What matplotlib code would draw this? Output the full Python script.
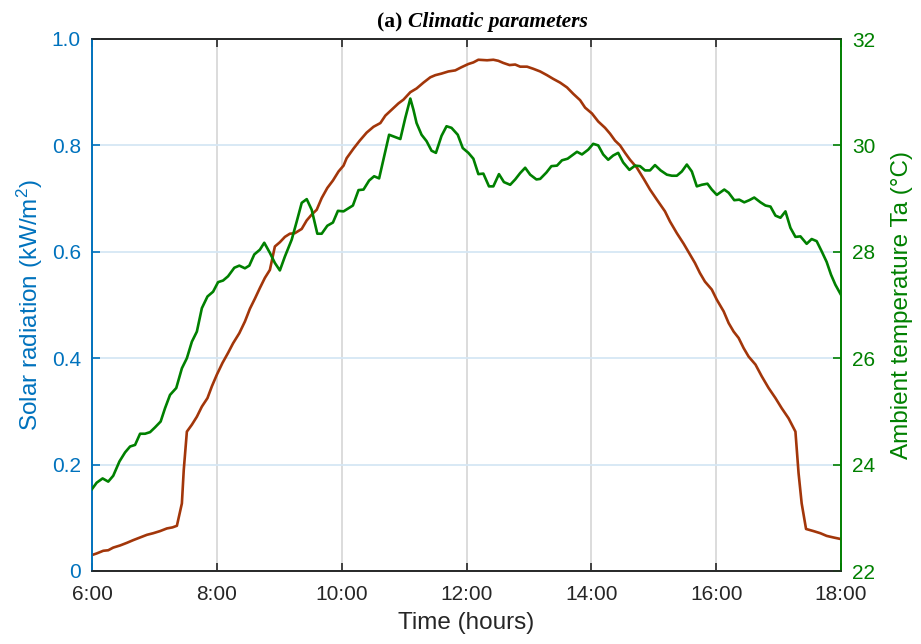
import matplotlib
matplotlib.use("Agg")
import matplotlib.pyplot as plt

plt.rcParams['font.family'] = ['Liberation Sans', 'DejaVu Sans']
plt.rcParams['mathtext.fontset'] = 'custom'
plt.rcParams['mathtext.rm'] = 'Liberation Sans'
plt.rcParams['mathtext.it'] = 'Liberation Sans:italic'
plt.rcParams['mathtext.default'] = 'regular'

# ---------------- data ----------------
# Solar radiation (kW/m^2) vs time (decimal hours)
sol_t = [6.00, 6.075, 6.18, 6.26, 6.34, 6.45, 6.56, 6.66, 6.77, 6.88, 6.98, 7.09, 7.20, 7.29, 7.36,
         7.44, 7.47, 7.52, 7.60, 7.68, 7.76, 7.85, 7.92, 8.00, 8.09, 8.18, 8.26, 8.36, 8.45, 8.53,
         8.61, 8.69, 8.77, 8.85, 8.93, 9.01, 9.09, 9.17, 9.25, 9.36, 9.44, 9.52, 9.60, 9.68, 9.77,
         9.86, 9.95, 10.03, 10.08, 10.19, 10.29, 10.40, 10.51, 10.62, 10.70, 10.80, 10.91, 10.99,
         11.10, 11.20, 11.31, 11.42, 11.50, 11.60, 11.71, 11.82, 11.92, 12.03, 12.11, 12.19, 12.33,
         12.43, 12.51, 12.59, 12.69, 12.78, 12.86, 12.97, 13.07, 13.18, 13.29, 13.39, 13.50, 13.61,
         13.71, 13.82, 13.90, 14.01, 14.11, 14.22, 14.30, 14.38, 14.46, 14.54, 14.62, 14.73, 14.84,
         14.94, 15.05, 15.18, 15.26, 15.37, 15.48, 15.58, 15.66, 15.74, 15.82, 15.93, 16.01, 16.12,
         16.20, 16.28, 16.36, 16.44, 16.52, 16.63, 16.73, 16.84, 16.95, 17.05, 17.16, 17.27, 17.32,
         17.37, 17.44, 17.56, 17.67, 17.77, 17.88, 18.00]
sol_v = [0.030, 0.033, 0.038, 0.039, 0.044, 0.048, 0.053, 0.058, 0.063, 0.068, 0.071, 0.075, 0.080, 0.082, 0.085,
         0.127, 0.190, 0.262, 0.275, 0.290, 0.309, 0.325, 0.347, 0.369, 0.391, 0.410, 0.428, 0.447, 0.469, 0.493,
         0.512, 0.532, 0.551, 0.566, 0.610, 0.618, 0.628, 0.634, 0.635, 0.643, 0.659, 0.670, 0.679, 0.701, 0.720,
         0.734, 0.751, 0.762, 0.776, 0.794, 0.809, 0.824, 0.835, 0.842, 0.856, 0.867, 0.879, 0.886,
         0.900, 0.907, 0.918, 0.928, 0.932, 0.935, 0.939, 0.941, 0.947, 0.953, 0.956, 0.961, 0.960,
         0.961, 0.959, 0.955, 0.951, 0.952, 0.948, 0.948, 0.944, 0.939, 0.932, 0.925, 0.918, 0.909,
         0.897, 0.885, 0.871, 0.860, 0.845, 0.833, 0.822, 0.809, 0.800, 0.786, 0.773, 0.758, 0.737,
         0.717, 0.698, 0.676, 0.657, 0.635, 0.615, 0.595, 0.579, 0.560, 0.544, 0.529, 0.510, 0.488,
         0.466, 0.450, 0.438, 0.419, 0.403, 0.388, 0.366, 0.344, 0.325, 0.306, 0.287, 0.262, 0.184,
         0.127, 0.079, 0.075, 0.071, 0.066, 0.063, 0.060]

# Ambient temperature (deg C) vs time (decimal hours)
temp_t = [6.00, 6.075, 6.17, 6.26, 6.34, 6.44, 6.53, 6.61, 6.69, 6.77, 6.85, 6.93, 7.01, 7.10, 7.17,
          7.25, 7.35, 7.44, 7.52, 7.60, 7.68, 7.76, 7.85, 7.94, 8.02, 8.10, 8.18, 8.28, 8.36, 8.45,
          8.52, 8.60, 8.69, 8.76, 8.85, 8.93, 9.01, 9.09, 9.20, 9.28, 9.36, 9.44, 9.52, 9.61, 9.68,
          9.77, 9.86, 9.94, 10.03, 10.18, 10.27, 10.35, 10.44, 10.52, 10.60, 10.70, 10.76, 10.94,
          11.02, 11.10, 11.15, 11.20, 11.28, 11.36, 11.44, 11.51, 11.60, 11.68, 11.76, 11.86, 11.94,
          12.03, 12.11, 12.19, 12.27, 12.36, 12.43, 12.52, 12.60, 12.70, 12.78, 12.86, 12.94, 13.02,
          13.12, 13.18, 13.28, 13.36, 13.45, 13.53, 13.62, 13.69, 13.77, 13.85, 13.95, 14.03, 14.11,
          14.19, 14.27, 14.35, 14.43, 14.51, 14.61, 14.70, 14.78, 14.86, 14.94, 15.02, 15.11, 15.21,
          15.29, 15.37, 15.45, 15.53, 15.61, 15.69, 15.77, 15.86, 15.93, 16.01, 16.13, 16.20, 16.29,
          16.37, 16.45, 16.53, 16.61, 16.71, 16.79, 16.87, 16.95, 17.03, 17.11, 17.19, 17.27, 17.35,
          17.45, 17.53, 17.61, 17.69, 17.77, 17.84, 17.91, 18.00]
temp_v = [23.54, 23.66, 23.74, 23.68, 23.79, 24.06, 24.23, 24.34, 24.37, 24.58, 24.58, 24.61, 24.70, 24.81, 25.06,
          25.31, 25.44, 25.81, 26.00, 26.31, 26.50, 26.94, 27.16, 27.25, 27.43, 27.46, 27.54, 27.70, 27.74, 27.69,
          27.74, 27.95, 28.04, 28.17, 27.98, 27.79, 27.65, 27.91, 28.23, 28.57, 28.92, 28.99, 28.79, 28.34, 28.34,
          28.49, 28.55, 28.77, 28.76, 28.87, 29.16, 29.17, 29.34, 29.42, 29.38, 29.89, 30.20, 30.12,
          30.52, 30.88, 30.67, 30.42, 30.20, 30.08, 29.90, 29.86, 30.18, 30.36, 30.33, 30.20, 29.95,
          29.86, 29.75, 29.46, 29.47, 29.23, 29.23, 29.46, 29.31, 29.26, 29.36, 29.48, 29.58, 29.45,
          29.36, 29.37, 29.49, 29.61, 29.62, 29.72, 29.75, 29.81, 29.88, 29.83, 29.92, 30.03, 30.00,
          29.83, 29.73, 29.81, 29.86, 29.68, 29.54, 29.62, 29.61, 29.53, 29.53, 29.63, 29.53, 29.45,
          29.43, 29.43, 29.51, 29.64, 29.51, 29.23, 29.26, 29.28, 29.17, 29.07, 29.17, 29.11, 28.97,
          28.98, 28.93, 28.97, 29.02, 28.93, 28.87, 28.85, 28.68, 28.64, 28.76, 28.45, 28.28, 28.29,
          28.15, 28.24, 28.20, 28.01, 27.81, 27.57, 27.38, 27.19]

x_ticks = [6, 8, 10, 12, 14, 16, 18]
x_tick_labels = ['6:00', '8:00', '10:00', '12:00', '14:00', '16:00', '18:00']
left_ticks = [0, 0.2, 0.4, 0.6, 0.8, 1.0]
left_tick_labels = ['0', '0.2', '0.4', '0.6', '0.8', '1.0']
right_ticks = [22, 24, 26, 28, 30, 32]

# ---------------- style ----------------
BLUE = '#0072BD'
GREEN = '#008000'
BROWN = '#A2360A'
DARK = '#262626'

fig = plt.figure(figsize=(9.21, 6.44), dpi=100)
ax = fig.add_axes([92/921, 73/644, 749/921, 532/644])
ax2 = ax.twinx()

ax.plot(sol_t, sol_v, color=BROWN, lw=1.9, zorder=3)
ax2.plot(temp_t, temp_v, color=GREEN, lw=1.9, zorder=3)

ax.set_xlim(6, 18)
ax.set_ylim(0, 1)
ax2.set_ylim(22, 32)

ax.set_xticks(x_ticks)
ax.set_xticklabels(x_tick_labels)
ax.set_yticks(left_ticks)
ax.set_yticklabels(left_tick_labels)
ax2.set_yticks(right_ticks)

# grid
ax.xaxis.grid(True, color='#d9d9d9', lw=1.3)
ax.yaxis.grid(True, color='#d6e7f4', lw=1.3)
ax.set_axisbelow(True)

# spines
for a in (ax, ax2):
    a.spines['top'].set_color(DARK)
    a.spines['bottom'].set_color(DARK)
    a.spines['left'].set_color(BLUE)
    a.spines['right'].set_color(GREEN)
    for s in a.spines.values():
        s.set_linewidth(1.2)

ax.tick_params(axis='x', direction='in', length=6, width=1.2, color=DARK,
               labelsize=15, labelcolor=DARK, pad=10, top=True)
ax.tick_params(axis='y', direction='in', length=6, width=1.2, color=BLUE,
               labelsize=15, labelcolor=BLUE, pad=8)
ax2.tick_params(axis='y', direction='in', length=6, width=1.2, color=GREEN,
                labelsize=15, labelcolor=GREEN, pad=8)

ax.set_xlabel('Time (hours)', fontsize=17.5, color=DARK, labelpad=6)
ax.set_ylabel('Solar radiation (kW/m$^2$)', fontsize=17.5, color=BLUE, labelpad=5)
ax2.set_ylabel('Ambient temperature Ta (°C)', fontsize=17.5, color=GREEN, labelpad=11)

# title: "(a)" bold, rest bold italic
t1 = fig.text(377/921, 1 - 27/644, '(a) ', fontsize=15.5, fontweight='bold',
              family='Liberation Serif', ha='left', va='baseline', color='black')
ax.annotate('Climatic parameters', xy=(1, 0), xycoords=t1, xytext=(0, 0),
            textcoords='offset points', ha='left', va='bottom', fontsize=15.5,
            fontweight='bold', fontstyle='italic', family='Liberation Serif',
            color='black', annotation_clip=False)

fig.savefig('out.png', dpi=100)
